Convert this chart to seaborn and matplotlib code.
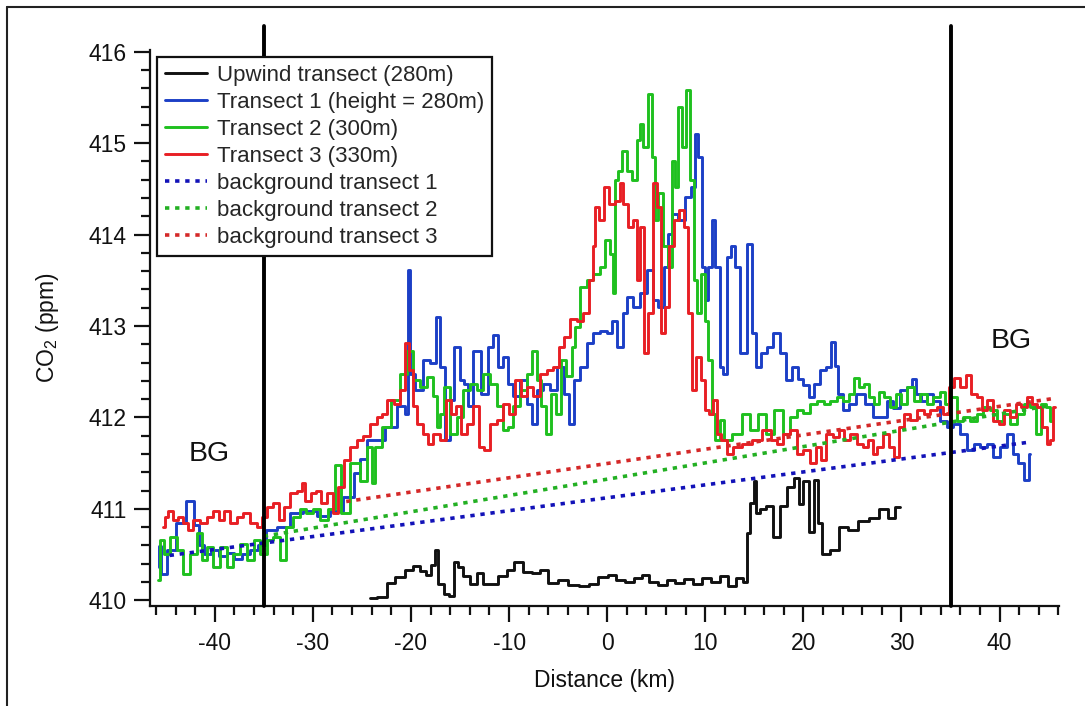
import matplotlib
matplotlib.use("Agg")
import matplotlib.pyplot as plt
from matplotlib.lines import Line2D
from matplotlib.ticker import MultipleLocator
import seaborn as sns
import pandas as pd

# ---------------- data ----------------
upwind_x = [-24.2, -22.8, -22.1, -21.1, -20.1, -19.4, -18.7, -18.2, -17.7, -17.4, -17.0, -16.35,
            -15.8, -15.5, -15.0, -14.3, -13.6, -12.95, -12.4, -11.6, -10.6, -9.9, -9.0, -8.2, -7.2,
            -6.5, -5.5, -4.5, -3.4, -2.4, -1.4, -0.4, 0.5, 1.4, 2.3, 3.2, 3.9, 4.7, 5.6, 6.5, 7.4,
            8.3, 9.2, 10.1, 11.0, 11.9, 12.8, 13.5, 14.2, 14.4, 14.77, 15.13, 15.3, 15.84, 16.54,
            17.26, 17.96, 18.67, 19.38, 19.73, 20.27, 20.8, 21.33, 21.68, 22.21, 23.27, 23.99,
            25.05, 26.11, 27.18, 28.24, 28.94, 29.83]
upwind_y = [410.02, 410.03, 410.19, 410.25, 410.33, 410.37, 410.32, 410.28, 410.38, 410.55, 410.18,
            410.07, 410.05, 410.42, 410.36, 410.26, 410.18, 410.30, 410.18, 410.18, 410.26, 410.33,
            410.42, 410.31, 410.30, 410.33, 410.19, 410.22, 410.17, 410.16, 410.18, 410.25, 410.28,
            410.22, 410.20, 410.24, 410.28, 410.20, 410.17, 410.22, 410.19, 410.23, 410.18, 410.24,
            410.20, 410.26, 410.15, 410.24, 410.20, 410.73, 411.06, 411.30, 410.95, 411.00, 411.03,
            410.69, 411.03, 411.24, 411.34, 411.05, 411.30, 410.75, 411.32, 410.85, 410.51, 410.55,
            410.80, 410.77, 410.87, 410.90, 411.00, 410.90, 411.02]

t1_x = [-45.7, -45.6, -45.3, -44.5, -43.5, -42.4, -41.9, -41.4, -40.7, -40.0, -39.2, -38.4, -37.6,
        -36.8, -36.0, -35.2, -34.4, -33.0, -31.65, -30.3, -28.9, -27.6, -26.2, -25.5, -24.8, -24.2,
        -23.2, -22.1, -20.8, -20.4, -20.25, -20.0, -19.1, -18.4, -17.7, -17.2, -16.9, -16.2, -15.85,
        -15.3, -14.8, -14.3, -14.0, -13.3, -12.45, -11.9, -11.4, -10.9, -10.4, -9.9, -9.2, -8.5,
        -7.9, -7.5, -6.8, -6.2, -5.5, -4.8, -4.1, -3.6, -3.1, -2.4, -1.7, -1.1, -0.4, 0.3, 0.6, 1.5,
        1.8, 2.3, 3.0, 3.7, 4.4, 4.9, 5.4, 6.1, 6.4, 6.9, 7.6, 8.3, 8.8, 9.1, 9.5, 9.8, 10.15, 10.5,
        10.8, 11.2, 11.7, 12.0, 12.4, 12.9, 13.2, 13.9, 14.6, 14.9, 15.4, 15.9, 16.6, 17.3, 18.0,
        18.5, 19.2, 19.7, 20.3, 20.85, 21.4, 22.0, 22.7, 23.0, 23.4, 23.7, 24.4, 24.9, 25.8, 26.8,
        27.3, 28.2, 28.8, 29.5, 30.2, 30.9, 31.2, 31.7, 32.2, 32.9, 33.6, 34.3, 34.95, 35.6, 36.3,
        37.0, 37.7, 38.35, 39.0, 39.7, 40.4, 41.1, 41.6, 42.1, 42.8, 43.1]
t1_y = [410.36, 410.59, 410.29, 410.55, 410.85, 411.09, 410.82, 410.60, 410.50, 410.55, 410.48,
        410.52, 410.45, 410.50, 410.55, 410.60, 410.77, 410.80, 410.95, 410.98, 410.92, 410.98,
        411.13, 411.39, 411.55, 411.75, 411.75, 411.90, 412.12, 412.04, 413.61, 412.48, 412.30,
        412.63, 412.59, 413.10, 412.55, 411.75, 412.19, 412.77, 412.41, 412.37, 412.12, 412.73,
        412.26, 412.77, 412.90, 412.55, 412.66, 412.37, 412.23, 412.41, 412.15, 411.93, 412.30,
        412.37, 412.30, 412.55, 412.26, 411.93, 412.41, 412.55, 412.81, 412.92, 412.95, 412.92,
        413.06, 412.77, 413.14, 413.32, 413.21, 413.36, 413.61, 413.28, 413.21, 413.65, 414.01,
        414.23, 414.16, 414.41, 414.52, 415.10, 414.85, 413.65, 413.28, 413.65, 414.16, 413.65,
        412.55, 412.48, 413.76, 413.87, 413.65, 412.70, 413.90, 412.92, 412.55, 412.70, 412.77,
        412.92, 412.70, 412.41, 412.55, 412.42, 412.35, 412.22, 412.37, 412.52, 412.55, 412.83,
        412.56, 412.26, 412.08, 412.15, 412.26, 412.15, 412.00, 412.00, 412.18, 412.10, 412.30,
        412.33, 412.42, 412.26, 412.18, 412.26, 412.18, 411.96, 411.90, 411.93, 411.82, 411.64,
        411.71, 411.68, 411.71, 411.57, 411.68, 411.82, 411.60, 411.50, 411.31, 411.60]

t2_x = [-45.75, -45.4, -44.9, -44.2, -43.5, -42.9, -42.2, -41.5, -41.0, -40.5, -39.8, -39.1, -38.4,
        -37.8, -37.1, -36.4, -35.7, -35.05, -34.4, -33.7, -33.1, -32.3, -31.65, -31.0, -30.3, -29.6,
        -28.9, -28.1, -27.3, -26.9, -25.6, -24.8, -24.2, -23.8, -23.5, -22.5, -21.5, -20.8, -20.1,
        -19.4, -18.7, -18.05, -17.5, -17.2, -16.9, -16.35, -15.7, -15.0, -14.3, -13.6, -13.0, -12.3,
        -11.6, -10.9, -10.4, -9.9, -9.2, -8.5, -7.9, -7.35, -7.0, -6.5, -6.0, -5.5, -5.0, -4.5, -3.8,
        -3.4, -3.1, -2.4, -1.7, -1.1, -0.4, 0.0, 0.5, 0.64, 1.0, 1.3, 1.8, 2.3, 2.85, 3.2, 3.5, 3.9,
        4.4, 4.7, 5.05, 5.4, 5.9, 6.4, 6.75, 7.1, 7.4, 7.8, 8.3, 8.6, 9.0, 9.3, 9.8, 10.15, 10.5,
        10.8, 11.2, 11.7, 12.2, 13.2, 14.2, 14.9, 15.8, 16.6, 17.5, 18.3, 19.0, 19.7, 20.3, 21.0,
        21.7, 22.4, 23.1, 23.7, 24.4, 24.9, 25.4, 25.95, 26.5, 26.96, 27.5, 28.0, 28.5, 29.2, 29.7,
        30.2, 30.9, 31.55, 32.2, 32.9, 33.6, 34.3, 34.6, 35.3, 35.97, 36.6, 37.3, 38.0, 38.7, 39.4,
        40.05, 40.7, 41.4, 42.1, 42.8, 43.4, 43.95, 44.5, 45.0, 45.3]
t2_y = [410.22, 410.66, 410.51, 410.69, 410.55, 410.29, 410.50, 410.73, 410.44, 410.58, 410.36,
        410.58, 410.36, 410.51, 410.62, 410.44, 410.66, 410.51, 410.66, 410.69, 410.44, 410.80,
        410.91, 411.00, 410.95, 411.00, 410.88, 411.00, 411.48, 410.95, 411.50, 411.30, 411.68,
        411.28, 411.68, 411.90, 412.19, 412.48, 412.73, 412.41, 412.33, 412.44, 412.23, 411.90,
        412.04, 412.33, 411.82, 412.00, 412.30, 412.37, 412.30, 412.48, 412.37, 412.12, 411.86,
        411.90, 412.12, 412.30, 412.48, 412.73, 412.41, 412.12, 411.82, 412.26, 412.04, 412.63,
        412.45, 412.77, 412.99, 413.43, 413.50, 413.57, 413.65, 413.94, 413.79, 413.36, 414.60,
        414.70, 414.92, 414.70, 414.60, 415.03, 415.21, 414.96, 415.54, 414.85, 414.16, 414.45,
        413.87, 413.65, 414.81, 414.52, 415.40, 414.96, 415.58, 414.60, 413.50, 413.14, 413.57,
        413.06, 412.63, 412.04, 411.75, 411.97, 411.75, 411.82, 412.04, 411.86, 412.04, 411.82,
        412.08, 411.82, 412.00, 412.08, 412.05, 412.15, 412.18, 412.15, 412.18, 412.22, 412.18,
        412.26, 412.43, 412.33, 412.37, 412.22, 412.15, 412.28, 412.22, 412.11, 412.26, 412.15,
        412.33, 412.18, 412.26, 412.15, 412.22, 412.28, 412.15, 412.22, 411.96, 412.00, 411.96,
        412.04, 412.11, 412.08, 411.96, 412.04, 411.93, 412.04, 412.15, 412.11, 411.82, 412.15,
        412.11, 411.96]

t3_x = [-45.3, -44.9, -44.56, -44.05, -43.5, -43.0, -42.5, -41.84, -41.16, -40.5, -39.8, -39.3,
        -38.8, -38.1, -37.4, -36.75, -36.07, -35.4, -34.9, -34.4, -33.7, -33.2, -32.7, -32.0, -31.3,
        -31.0, -30.5, -29.95, -29.4, -28.9, -28.25, -27.7, -27.2, -26.55, -25.9, -25.2, -24.5, -23.8,
        -23.2, -22.8, -22.1, -21.45, -20.8, -20.4, -19.9, -19.6, -19.07, -18.56, -18.05, -17.4,
        -16.7, -16.2, -15.7, -15.2, -14.66, -13.98, -13.3, -12.8, -12.3, -11.6, -10.9, -10.24,
        -9.73, -9.05, -8.54, -7.86, -7.2, -6.5, -5.82, -5.14, -4.63, -4.12, -3.44, -2.76, -2.08,
        -1.57, -1.4, -1.06, -0.55, 0.0, 0.47, 1.15, 1.49, 1.83, 2.34, 2.85, 3.19, 3.53, 4.04, 4.37,
        4.88, 5.2, 5.73, 6.07, 6.58, 7.09, 7.6, 8.1, 8.45, 8.79, 9.3, 9.81, 10.15, 10.66, 11.0,
        11.34, 11.85, 12.53, 13.2, 14.2, 15.25, 16.3, 17.0, 17.62, 18.3, 18.98, 19.66, 20.34, 21.0,
        21.5, 22.0, 22.7, 23.4, 23.9, 24.4, 25.1, 25.8, 26.3, 26.8, 27.3, 27.8, 28.5, 29.0, 29.5,
        30.0, 30.5, 31.2, 31.9, 32.6, 33.25, 33.9, 34.6, 35.1, 35.6, 36.3, 36.8, 37.3, 38.0, 38.5,
        39.0, 39.7, 40.2, 40.7, 41.4, 41.9, 42.4, 43.1, 43.6, 44.1, 44.6, 44.97, 45.3, 45.65]
t3_y = [410.80, 410.91, 410.98, 410.88, 410.91, 410.84, 410.77, 410.88, 410.84, 410.91, 410.98,
        410.88, 410.98, 410.84, 410.91, 410.95, 410.84, 410.80, 410.91, 411.02, 411.06, 410.88,
        411.02, 411.17, 411.20, 411.28, 411.09, 411.17, 411.20, 411.06, 411.17, 410.95, 411.24,
        411.53, 411.68, 411.75, 411.80, 411.93, 412.00, 412.04, 412.19, 412.15, 412.30, 412.81,
        412.52, 412.12, 411.93, 411.82, 411.71, 411.82, 411.75, 412.19, 412.04, 412.12, 411.82,
        411.93, 412.12, 411.68, 411.64, 411.93, 411.97, 412.15, 412.04, 412.41, 412.23, 412.33,
        412.23, 412.48, 412.52, 412.55, 412.77, 412.88, 413.08, 413.06, 413.14, 413.50, 413.87,
        414.30, 414.16, 414.52, 414.34, 414.37, 414.56, 414.34, 414.08, 414.16, 413.50, 414.08,
        412.70, 413.14, 414.56, 414.30, 412.92, 413.21, 413.87, 414.16, 414.27, 414.08, 413.14,
        412.30, 412.66, 412.41, 412.08, 412.04, 412.19, 411.82, 411.75, 411.60, 411.68, 411.71,
        411.75, 411.86, 411.75, 411.71, 411.82, 411.86, 411.60, 411.64, 411.50, 411.68, 411.53,
        411.82, 411.79, 411.86, 411.75, 411.82, 411.71, 411.68, 411.75, 411.60, 411.68, 411.82,
        411.68, 411.57, 411.90, 412.04, 411.97, 412.08, 412.04, 412.08, 412.11, 412.04, 412.33,
        412.43, 412.33, 412.46, 412.26, 412.22, 412.08, 412.19, 411.96, 411.93, 412.08, 412.00,
        412.15, 412.11, 412.22, 412.15, 412.11, 411.90, 411.71, 411.75, 412.11]

bg1_x = [-44.6, 43.1]
bg1_y = [410.49, 411.73]
bg2_x = [-35.0, 45.2]
bg2_y = [410.70, 412.13]
bg3_x = [-26.6, 45.7]
bg3_y = [411.08, 412.21]

bg_bounds = [-35, 35]
bg_text_x = [-40.55, 41.15]
bg_text_y = [411.6, 412.84]

labels = ["Upwind transect (280m)", "Transect 1 (height = 280m)", "Transect 2 (300m)",
          "Transect 3 (330m)", "background transect 1", "background transect 2",
          "background transect 3"]

x_ticks = [-40, -30, -20, -10, 0, 10, 20, 30, 40]
y_ticks = [410, 411, 412, 413, 414, 415, 416]

# ---------------- style ----------------
sns.set_theme(style="ticks")
plt.rcParams["font.family"] = ["Liberation Sans", "DejaVu Sans"]
plt.rcParams["mathtext.fontset"] = "custom"
plt.rcParams["mathtext.rm"] = "Liberation Sans"
plt.rcParams["mathtext.it"] = "Liberation Sans:italic"
plt.rcParams["mathtext.bf"] = "Liberation Sans:bold"
plt.rcParams["axes.unicode_minus"] = False

fig = plt.figure(figsize=(10.85, 7.06), dpi=100)
fig.patch.set_facecolor("white")
ax = fig.add_axes([0.1387, 0.1421, 0.8373, 0.7871])
ax.set_facecolor("white")

solid_lw = 2.1
dot_lw = 2.6
dot_style = (0, (1.2, 1.6))

series = [
    (upwind_x, upwind_y, "#111111", "-", solid_lw),
    (t1_x, t1_y, "#1c3fc6", "-", solid_lw),
    (t2_x, t2_y, "#1fc01f", "-", solid_lw),
    (t3_x, t3_y, "#e81f24", "-", solid_lw),
    (bg1_x, bg1_y, "#1212b8", dot_style, dot_lw),
    (bg2_x, bg2_y, "#23b023", dot_style, dot_lw),
    (bg3_x, bg3_y, "#d42828", dot_style, dot_lw),
]

for (xs, ys, col, ls, lw), lab in zip(series, labels):
    df = pd.DataFrame({"x": xs, "y": ys})
    kw = dict(drawstyle="steps-mid") if ls == "-" else dict(dash_capstyle="butt")
    sns.lineplot(data=df, x="x", y="y", color=col, linestyle=ls, linewidth=lw,
                 estimator=None, sort=False, ax=ax, label=lab, legend=False, **kw)

for xb in bg_bounds:
    ax.axvline(xb, ymin=0, ymax=1.043, color="black", lw=2.8, clip_on=False, zorder=5)

for tx, ty in zip(bg_text_x, bg_text_y):
    ax.text(tx, ty, "BG", fontsize=20.5, ha="center", va="center", color="#111111")

ax.set_xlim(-46.55, 46.05)
ax.set_ylim(409.94, 416.02)
ax.set_xticks(x_ticks)
ax.set_yticks(y_ticks)
ax.xaxis.set_minor_locator(MultipleLocator(2))
ax.yaxis.set_minor_locator(MultipleLocator(0.2))

for s in ["top", "right"]:
    ax.spines[s].set_visible(False)
for s in ["left", "bottom"]:
    ax.spines[s].set_linewidth(1.6)
    ax.spines[s].set_color("#111111")

ax.tick_params(which="major", length=11.5, width=1.6, direction="out", labelsize=16.5,
               colors="#111111")
ax.tick_params(which="minor", length=6.7, width=1.6, direction="out", colors="#111111")
ax.tick_params(axis="y", which="major", pad=5.5)
ax.tick_params(axis="x", which="major", pad=7.5)

ax.set_xlabel("Distance (km)", fontsize=16.5, color="#111111")
ax.set_ylabel("CO$_2$ (ppm)", fontsize=16.5, color="#111111")
ax.xaxis.set_label_coords(0.5, -0.114)
ax.yaxis.set_label_coords(-0.099, 0.5)

leg = ax.legend(loc="upper left", bbox_to_anchor=(0.0072, 0.987), borderaxespad=0,
                frameon=True, fancybox=False, framealpha=1, edgecolor="#111111",
                fontsize=16, handlelength=1.9, handletextpad=0.45, labelspacing=0.27,
                borderpad=0.35)
leg.get_frame().set_linewidth(1.6)
leg.set_zorder(10)

# figure border (top and left only, as in the cropped reference)
fig.add_artist(Line2D([7.3 / 1085, 1.0], [1 - 6.7 / 706, 1 - 6.7 / 706],
                      transform=fig.transFigure, color="#222222", lw=1.5))
fig.add_artist(Line2D([7.3 / 1085, 7.3 / 1085], [0.0, 1 - 6.7 / 706],
                      transform=fig.transFigure, color="#222222", lw=1.5))

fig.savefig("out.png", dpi=100, facecolor="white")
